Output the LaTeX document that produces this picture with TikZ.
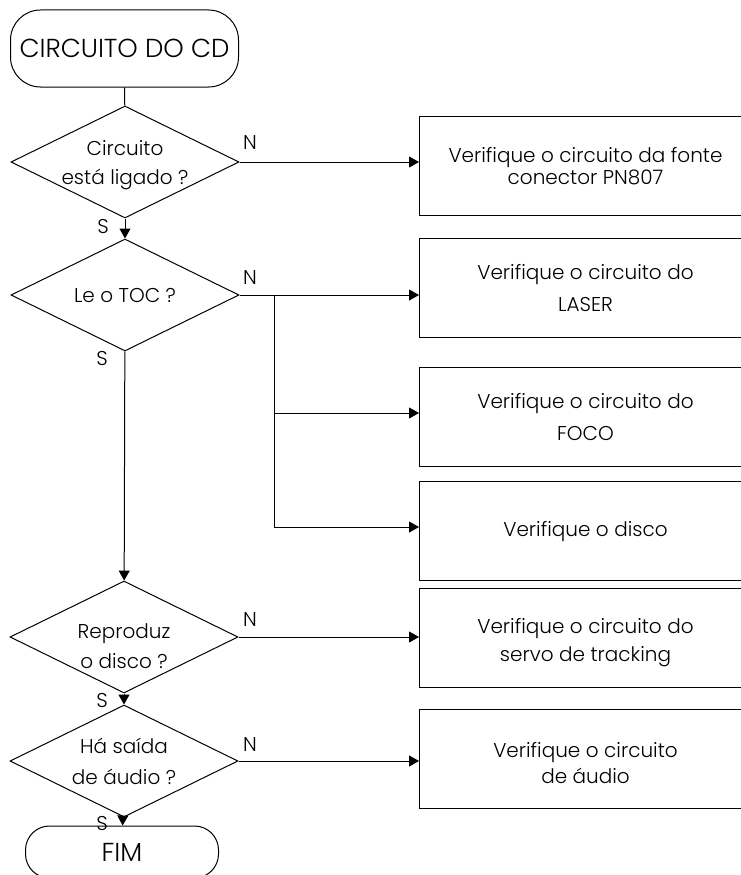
\documentclass[tikz,border=0pt]{standalone}
\usepackage{fontspec}
\setmainfont{Poppins Light}
\usetikzlibrary{shapes.geometric,arrows.meta,calc}
\begin{document}
\begin{tikzpicture}[x=1pt,y=-1pt,
  every node/.style={font=\fontsize{20}{26}\selectfont},
  term/.style={draw,line width=1pt,rectangle,rounded corners=30pt,minimum width=228pt,minimum height=77pt,inner sep=0pt,font=\fontsize{26}{28}\selectfont},
  dec/.style={draw,line width=1pt,diamond,aspect=2.036,minimum width=228pt,minimum height=112pt,inner sep=0pt},
  act/.style={draw,line width=1pt,rectangle,minimum width=332pt,minimum height=99pt,inner sep=0pt,anchor=west},
  txt/.style={inner sep=0pt,align=center},
  conn/.style={line width=1pt},
  arr/.style={line width=1pt,-{Triangle[length=10pt,width=11pt]}},
  lbl/.style={inner sep=0pt}]
\useasboundingbox (0,0) rectangle (741,875);
\clip (0,0) rectangle (741,875);
\node[term] (start) at (124.5,48.5) {CIRCUITO DO CD};
\node[dec] (d1) at (125,162) {};
\node[dec] (d2) at (125,295) {};
\node[dec] (d3) at (124,637) {};
\node[dec] (d4) at (124,761) {};
\node[term,minimum width=193pt,minimum height=52pt,rounded corners=24pt] (fim) at (122,852) {FIM};

\node[txt] (t1) at ($(d1)+(0,3)$) {Circuito\\[3pt]está ligado ?};
\node[txt] (t2) at (d2) {Le o TOC ?};
\node[txt] (t3) at ($(d3)+(0,9)$) {Reproduz\\[4pt]o disco ?};
\node[txt] (t4) at ($(d4)+(0,0)$) {Há saída\\[5pt]de áudio ?};

\node[act] (b1) at (419,166) {};
\node[act] (b2) at (419,287.5) {};
\node[act] (b3) at (419,416.5) {};
\node[act] (b4) at (419,530.5) {};
\node[act] (b5) at (419,637.5) {};
\node[act] (b6) at (419,758.5) {};

\node[txt] (u1) at (b1) {Verifique o circuito da fonte\\[-4pt]conector PN807};
\node[txt] (u2) at (b2) {Verifique o circuito do\\[6pt]LASER};
\node[txt] (u3) at (b3) {Verifique o circuito do\\[6pt]FOCO};
\node[txt] (u4) at ($(b4)+(0,1)$) {Verifique o disco};
\node[txt] (u5) at ($(b5)+(0,5)$) {Verifique o circuito do\\[2pt]servo de tracking};
\node[txt] (u6) at ($(b6)+(0,5)$) {Verifique o circuito\\de áudio};

\coordinate (br) at (274,295);

\draw[conn] (start) -- (d1);
\draw[arr] (d1) -- (d2);
\draw[arr] (d2) -- (d3);
\draw[arr] (d3) -- (d4);
\draw[arr] (d4) -- (fim);

\draw[arr] (d1.east) -- (d1.east -| b1.west);
\draw[arr] (d2.east) -- (d2.east -| b2.west);
\draw[conn] (br) -- (br |- 0,527);
\draw[arr] (br |- 0,413) -- (b3.west |- 0,413);
\draw[arr] (br |- 0,527) -- (b4.west |- 0,527);
\draw[arr] (d3.east) -- (d3.east -| b5.west);
\draw[arr] (d4.east) -- (d4.east -| b6.west);

\node[lbl] (n1) at (250,143) {N};
\node[lbl] (n2) at (250,278) {N};
\node[lbl] (n3) at (250,620) {N};
\node[lbl] (n4) at (250,745) {N};
\node[lbl] (s1) at (103,226) {S};
\node[lbl] (s2) at (102,358) {S};
\node[lbl] (s3) at (102,700) {S};
\node[lbl] (s4) at (102,823) {S};
\end{tikzpicture}
\end{document}
